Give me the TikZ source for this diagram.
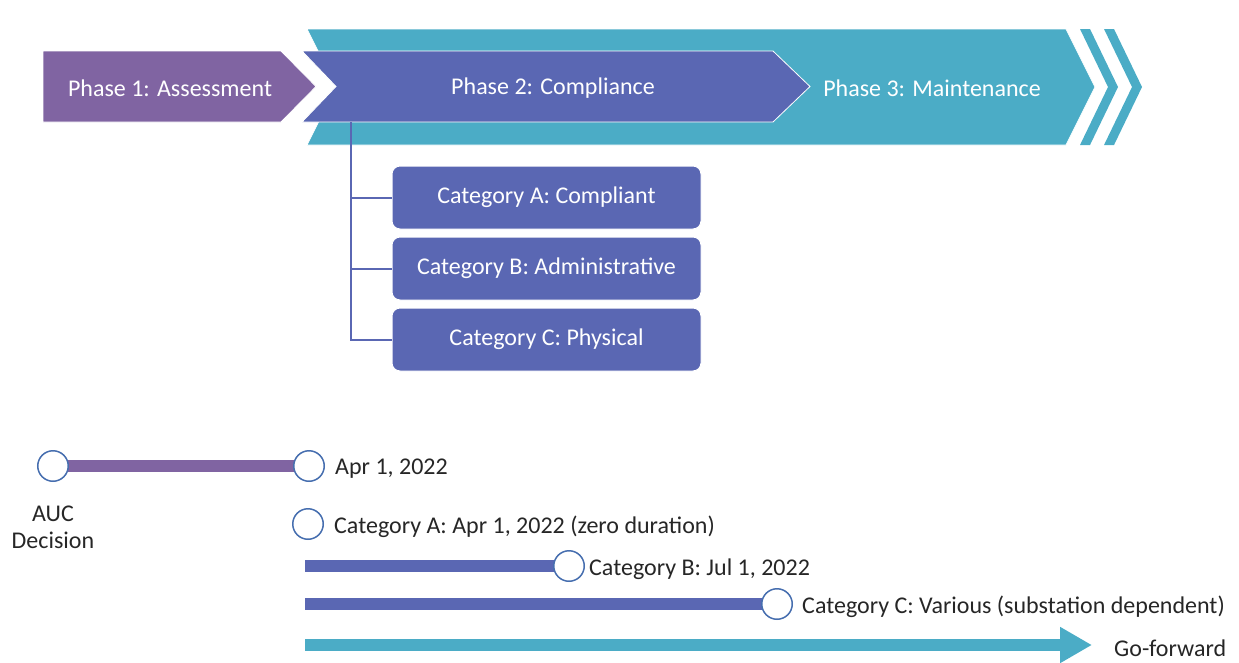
\documentclass[tikz,border=0pt]{standalone}
\usepackage{fontspec}
\setmainfont{Carlito}
\usepackage{tikz}
\usetikzlibrary{positioning,arrows.meta,backgrounds}

\definecolor{phaseone}{RGB}{128,100,162}
\definecolor{phasetwo}{RGB}{90,103,179}
\definecolor{phasethree}{RGB}{75,172,198}
\definecolor{ringblue}{RGB}{70,110,175}
\definecolor{inkgray}{RGB}{38,38,38}

\newcommand{\diagfont}{\fontsize{24}{27}\selectfont}

\tikzset{
  phaseshape/.style={draw=white, line width=0.8pt},
  phasetext/.style={text=white, font=\diagfont},
  catbox/.style={fill=phasetwo, draw=white, line width=1pt, rounded corners=8pt,
    minimum width=309pt, minimum height=63pt, text=white, font=\diagfont,
    text height=17pt, text depth=5pt},
  branch/.style={draw=phasetwo, line width=2pt},
  milestone/.style={circle, draw=ringblue, fill=white, line width=1.5pt,
    minimum size=30.5pt, inner sep=0pt},
  datetext/.style={text=inkgray, font=\diagfont, inner sep=2pt, yshift=-3pt},
  spanbar/.style={line width=12pt},
}

\begin{document}
\begin{tikzpicture}[x=1pt, y=-1pt]
    \useasboundingbox (0,0) rectangle (1239,662);

    % Phase band
    \fill[phasethree, phaseshape] (307,29) -- (1066,29) -- (1095,87) -- (1066,145)
        -- (307,145) -- (336,87) -- cycle;
    \fill[phasethree] (1080,29) -- (1090,29) -- (1118,87) -- (1090,145)
        -- (1080,145) -- (1108,87) -- cycle;
    \fill[phasethree] (1104,29) -- (1114,29) -- (1142,87) -- (1114,145)
        -- (1104,145) -- (1132,87) -- cycle;
    \fill[phaseone, phaseshape] (43,51) -- (281,51) -- (316,86.5) -- (281,122)
        -- (43,122) -- cycle;
    \fill[phasetwo, phaseshape] (302,51) -- (773,51) -- (810,86.5) -- (773,122)
        -- (302,122) -- (336,86.5) -- cycle;

    \node[phasetext] (ph1) at (170,88) {Phase 1: Assessment};
    \node[phasetext] (ph2) at (553,88) {Phase 2: Compliance};
    \node[phasetext] (ph3) at (932,88) {Phase 3: Maintenance};
    \coordinate (ph2foot) at (351,122);

    % Categories
    \node[catbox] (catA) at (546.5,197.5) {Category A: Compliant};
    \node[catbox, below=7pt of catA] (catB) {Category B: Administrative};
    \node[catbox, below=7pt of catB] (catC) {Category C: Physical};

    \draw[branch] (ph2foot) |- (catC.west);
    \draw[branch] (ph2foot |- catA) -- (catA.west);
    \draw[branch] (ph2foot |- catB) -- (catB.west);

    % Timeline
    \node[milestone] (auc) at (53,466) {};
    \node[milestone] (apr) at (309,466) {};
    \node[milestone] (catAdot) at (308,524) {};
    \node[milestone] (catBdot) at (569,566) {};
    \node[milestone] (catCdot) at (777,604) {};
    \coordinate (catBstart) at (305,566);
    \coordinate (catCstart) at (305,604);
    \coordinate (gostart) at (305,645);
    \coordinate (goend) at (1092,645);

    \node[datetext, align=center] (aucdec) at (53,524) {AUC\\Decision};
    \node[datetext, right=8pt of apr] (aprlbl) {Apr 1, 2022};
    \node[datetext, right=8pt of catAdot] (catAlbl) {Category A: Apr 1, 2022 (zero duration)};
    \node[datetext, right=2pt of catBdot] (catBlbl) {Category B: Jul 1, 2022};
    \node[datetext, right=7pt of catCdot] (catClbl) {Category C: Various (substation dependent)};
    \node[datetext, right=20pt of goend] (golbl) {Go-forward};

    \begin{scope}[on background layer]
        \draw[spanbar, phaseone] (auc.center) -- (apr.center);
        \draw[spanbar, phasetwo] (catBstart) -- (catBdot.center);
        \draw[spanbar, phasetwo] (catCstart) -- (catCdot.center);
    \end{scope}
    \draw[spanbar, phasethree, -{Triangle[length=32pt,width=34pt]}] (gostart) -- (goend);

\end{tikzpicture}
\end{document}
